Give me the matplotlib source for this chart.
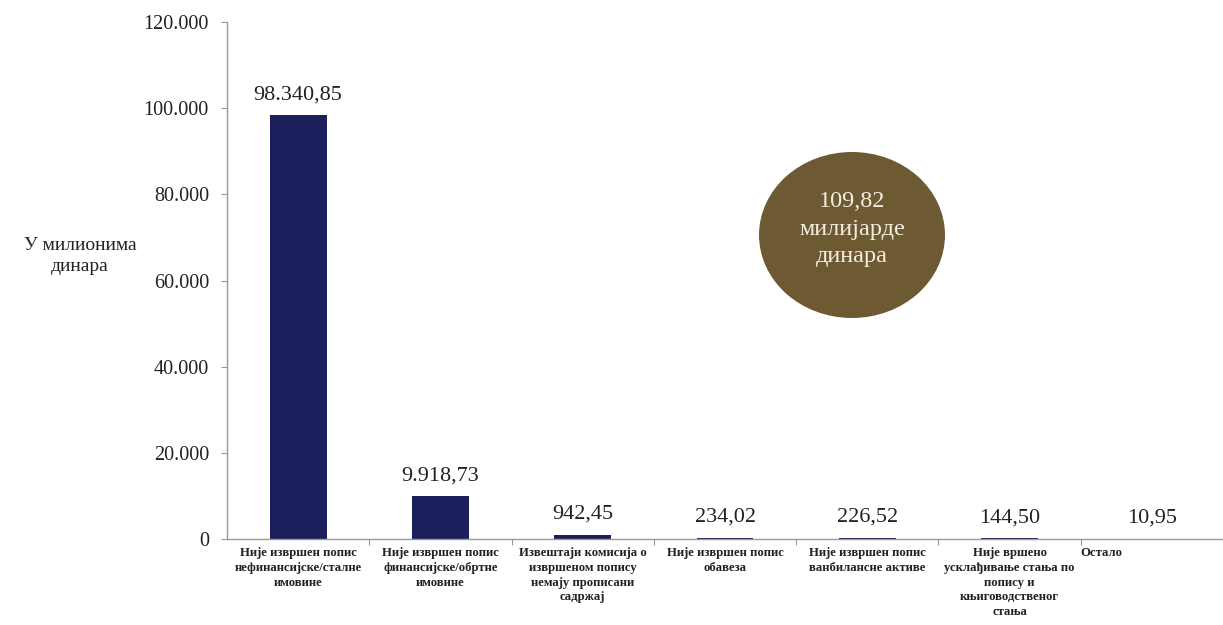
import matplotlib
matplotlib.use("Agg")
import matplotlib.pyplot as plt
from matplotlib.patches import Ellipse

plt.rcParams['font.family'] = ['Liberation Serif', 'DejaVu Serif']

categories = [
    "Није извршен попис\nнефинансијске/сталне\nимовине",
    "Није извршен попис\nфинансијске/обртне\nимовине",
    "Извештаји комисија о\nизвршеном попису\nнемају прописани\nсадржај",
    "Није извршен попис\nобавеза",
    "Није извршен попис\nванбилансне активе",
    "Није вршено\nусклађивање стања по\nпопису и\nкњиговодственог\nстања",
    "Остало",
]
values = [98340.85, 9918.73, 942.45, 234.02, 226.52, 144.50, 10.95]
value_labels = ["98.340,85", "9.918,73", "942,45", "234,02", "226,52", "144,50", "10,95"]
yticks = [0, 20000, 40000, 60000, 80000, 100000, 120000]
ytick_labels = ["0", "20.000", "40.000", "60.000", "80.000", "100.000", "120.000"]
y_title = "У милионима\nдинара"
total_text = "109,82\nмилијарде\nдинара"

W, H = 1223, 625
fig = plt.figure(figsize=(W / 100, H / 100), dpi=100)
ax = fig.add_axes([227 / W, 1 - 539 / H, 996 / W, 517 / H])

x = list(range(len(values)))
ax.bar(x, values, width=0.4, color="#1b1f5c", zorder=2)

ax.set_xlim(-0.5, len(values) - 0.5)
ax.set_ylim(0, 120000)
ax.set_yticks(yticks)
ax.set_yticklabels(ytick_labels, fontsize=14.5, color="#222222")
ax.set_xticks([i + 0.5 for i in range(len(values) - 1)])
ax.set_xticklabels([])
ax.tick_params(axis="y", length=4, color="#999999", pad=9)
ax.tick_params(axis="x", length=4, color="#999999")

for side in ("top", "right"):
    ax.spines[side].set_visible(False)
for side in ("left", "bottom"):
    ax.spines[side].set_color("#9a9a9a")
    ax.spines[side].set_linewidth(1.0)

# value labels above bars
for xi, v, lab in zip(x, values, value_labels):
    ax.annotate(lab, (xi, v), xytext=(0, 8), textcoords="offset points",
                ha="center", va="bottom", fontsize=16, color="#222222")

# category labels under the axis
for xi, lab in zip(x, categories):
    if lab == "Остало":
        ax.annotate(lab, (xi - 0.5, 0), xycoords=("data", "axes fraction"),
                    xytext=(0, -6), textcoords="offset points",
                    ha="left", va="top", fontsize=9.2, fontweight="bold",
                    color="#222222")
    else:
        ax.annotate(lab, (xi, 0), xycoords=("data", "axes fraction"),
                    xytext=(0, -6), textcoords="offset points",
                    ha="center", va="top", multialignment="center",
                    fontsize=9.2, fontweight="bold", color="#222222",
                    linespacing=1.3)

# y-axis title, horizontal on the left
fig.text(80 / W, 1 - 256 / H, y_title, ha="center", va="center",
         fontsize=14, color="#222222", multialignment="center",
         linespacing=1.25)

# total amount badge
cx, cy = 852, 235
ell = Ellipse((cx / W, 1 - cy / H), 186 / W, 166 / H,
              transform=fig.transFigure, facecolor="#6d5a33",
              edgecolor="none", zorder=5)
fig.patches.append(ell)
fig.text(cx / W, 1 - (cy - 6) / H, total_text, ha="center", va="center",
         fontsize=17.5, color="#f3ece0", multialignment="center",
         linespacing=1.4, zorder=6)

fig.savefig("out.png", dpi=100, facecolor="white")
